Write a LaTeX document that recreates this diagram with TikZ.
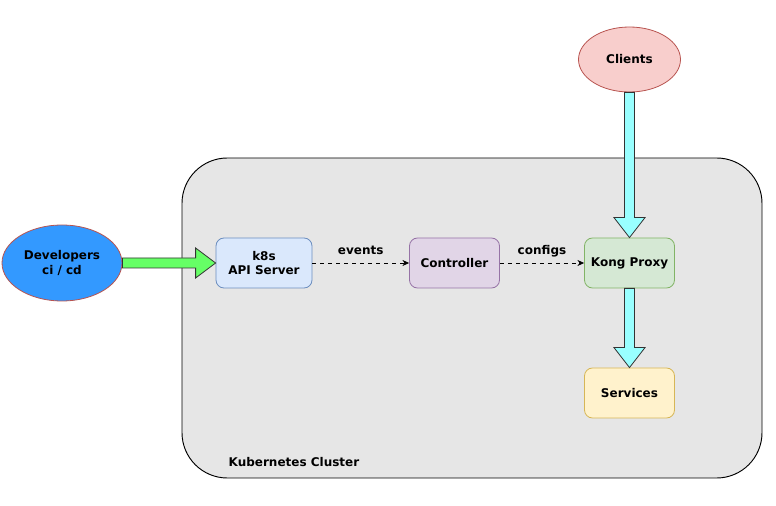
\documentclass[tikz,border=0pt]{standalone}
\usepackage{fontspec}
\setmainfont{DejaVu Sans}
\usetikzlibrary{arrows.meta,calc,shapes.geometric}
\definecolor{clusterfill}{HTML}{E6E6E6}
\definecolor{devfill}{HTML}{3399FF}
\definecolor{redstroke}{HTML}{B85450}
\definecolor{clientfill}{HTML}{F8CECC}
\definecolor{apifill}{HTML}{DAE8FC}
\definecolor{apistroke}{HTML}{6C8EBF}
\definecolor{ctlfill}{HTML}{E1D5E7}
\definecolor{ctlstroke}{HTML}{9673A6}
\definecolor{kongfill}{HTML}{D5E8D4}
\definecolor{kongstroke}{HTML}{82B366}
\definecolor{svcfill}{HTML}{FFF2CC}
\definecolor{svcstroke}{HTML}{D6B656}
\definecolor{greenarrow}{HTML}{66FF66}
\definecolor{cyanarrow}{HTML}{99FFFF}
\tikzset{
  lbl/.style={font=\fontsize{9pt}{11pt}\selectfont\bfseries, align=center, text=black},
  box/.style={lbl, rounded corners=6pt, minimum width=67.5pt, minimum height=37.5pt, line width=0.6pt, inner sep=0pt},
  boxn/.style={lbl, rounded corners=6pt, minimum width=72pt, minimum height=37.5pt, line width=0.6pt, inner sep=0pt},
  ell/.style={lbl, ellipse, inner sep=0pt, line width=0.6pt},
  edgelbl/.style={lbl, above=1pt, text height=7pt, text depth=2pt},
  flow/.style={dashed, line width=0.5pt, -{Stealth[length=5pt,width=4.5pt]}},
  blockarrow/.style={draw=black!80, line width=0.6pt, line join=miter},
}
\begin{document}
\begin{tikzpicture}[x=0.75pt,y=-0.75pt]
\useasboundingbox (0,0) rectangle (776,506);
% cluster
\draw[fill=clusterfill, line width=0.7pt, rounded corners=34pt] (182,158) rectangle (762,478);
\node[lbl, anchor=west] (cl) at (224,462) {Kubernetes Cluster};
% nodes
\node[ell, fill=devfill, draw=redstroke, minimum width=90pt, minimum height=57pt] (dev) at (62,263) {Developers\\ci / cd};
\node[ell, fill=clientfill, draw=redstroke, minimum width=76.5pt, minimum height=48.75pt] (cli) at (629.5,59.5) {Clients};
\node[boxn, fill=apifill, draw=apistroke] (api) at (264,263) {k8s\\API Server};
\node[box, fill=ctlfill, draw=ctlstroke] (ctl) at (454.5,263) {Controller};
\node[box, fill=kongfill, draw=kongstroke] (kong) at (629.5,263) {Kong Proxy};
\node[box, fill=svcfill, draw=svcstroke] (svc) at (629.5,393) {Services};
% dashed flows
\draw[flow] (api.east) -- node[edgelbl] (ev) {events} (ctl.west);
\draw[flow] (ctl.east) -- node[edgelbl] (cf) {configs} (kong.west);
% green block arrow
\draw[blockarrow, fill=greenarrow]
  ($(dev.east)+(0,-5)$) -- ($(api.west)+(-20,-5)$) -- ($(api.west)+(-20,-15)$) -- (api.west)
  -- ($(api.west)+(-20,15)$) -- ($(api.west)+(-20,5)$) -- ($(dev.east)+(0,5)$) -- cycle;
% cyan block arrows
\draw[blockarrow, fill=cyanarrow]
  ($(cli.south)+(-5,0)$) -- ($(kong.north)+(-5,-20)$) -- ($(kong.north)+(-15.5,-20)$) -- (kong.north)
  -- ($(kong.north)+(15.5,-20)$) -- ($(kong.north)+(5,-20)$) -- ($(cli.south)+(5,0)$) -- cycle;
\draw[blockarrow, fill=cyanarrow]
  ($(kong.south)+(-5,0)$) -- ($(svc.north)+(-5,-20)$) -- ($(svc.north)+(-15.5,-20)$) -- (svc.north)
  -- ($(svc.north)+(15.5,-20)$) -- ($(svc.north)+(5,-20)$) -- ($(kong.south)+(5,0)$) -- cycle;
\end{tikzpicture}
\end{document}
